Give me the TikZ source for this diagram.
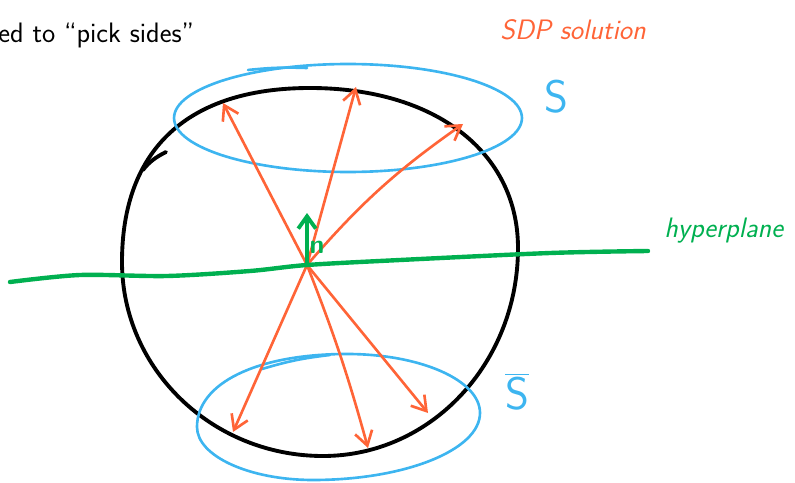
\documentclass[tikz,border=0pt]{standalone}
\usetikzlibrary{arrows.meta}

\definecolor{sdporange}{RGB}{255,100,55}
\definecolor{setblue}{RGB}{61,181,240}
\definecolor{planegreen}{RGB}{0,176,80}

\tikzset{
	ball/.style={line width=2.2pt, line cap=round},
	vec/.style={draw=sdporange, line width=1.5pt, line cap=round,
		-{Straight Barb[length=8pt,width=10pt,line width=1.5pt]}},
	loopset/.style={draw=setblue, line width=1.5pt, line cap=round},
	plane/.style={draw=planegreen, line width=2.5pt, line cap=round},
	hand/.style={font=\sffamily\itshape\fontsize{16}{18}\selectfont}
}

\begin{document}
\begin{tikzpicture}[x=0.02cm,y=-0.02cm]
	
	\useasboundingbox (0,0) rectangle (795,483);
	
	% Texte
	\node[anchor=base west, font=\sffamily\fontsize{16}{18}\selectfont, inner sep=0pt] (txt) at (-2,43) {ed to ``pick sides''};
	
	% Sphere
	\draw[ball] (310,88) .. controls (435,88) and (518,152) .. (518,248)
		.. controls (518,363) and (431,456) .. (323,456)
		.. controls (212,456) and (122,369) .. (122,262)
		.. controls (122,149) and (188,88) .. cycle;
	\draw[ball] (143,170) .. controls (149,162) and (156,157) .. (166,152);
	
	% Ensembles
	\draw[loopset] (348,118) ellipse [x radius=3.48cm, y radius=1.08cm];
	\draw[loopset] (248,70) to[bend left=4] (307,68);
	\draw[loopset] (347,354) .. controls (420,354) and (480,380) .. (480,413)
		.. controls (480,450) and (405,480) .. (313,480)
		.. controls (249,480) and (197,456) .. (197,427)
		.. controls (197,383) and (257,354) .. cycle;
	\draw[loopset] (262,369) to[bend left=5] (330,355);
	
	% Vecteurs
	\coordinate (o) at (307,265);
	\coordinate (s1) at (223,103);
	\coordinate (s2) at (356,87);
	\coordinate (s3) at (463,124);
	\coordinate (t1) at (233,432);
	\coordinate (t2) at (368,448);
	\coordinate (t3) at (428,413);
	\draw[vec] (o) -- (s1);
	\draw[vec] (o) -- (s2);
	\draw[vec] (o) to[bend left=7] (s3);
	\draw[vec] (o) -- (t1);
	\draw[vec] (o) to[bend left=3] (t2);
	\draw[vec] (o) -- (t3);
	
	% Hyperplan
	\draw[plane] plot[smooth] coordinates {(10,282) (80,275) (167,276) (250,271) (307,265) (400,260) (550,253) (648,251)};
	\coordinate (n) at (307,213);
	\draw[plane, -{Straight Barb[length=7pt,width=10pt,line width=2.2pt]}] (o) -- (n);
	
	% Labels
	\node[hand, sdporange] (sdp) at (573,30) {SDP solution};
	\node[hand, planegreen, anchor=west, inner sep=0pt] (hyp) at (664,231) {hyperplane};
	\node[planegreen, font=\sffamily\bfseries\fontsize{15}{17}\selectfont] (nlab) at (317,247) {n};
	\node[setblue, font=\sffamily\fontsize{26}{28}\selectfont] (S) at (556,97) {S};
	\node[setblue, font=\sffamily\fontsize{26}{28}\selectfont] (Sbar) at (517,392) {$\overline{\mbox{S}}$};
	
\end{tikzpicture}
\end{document}
